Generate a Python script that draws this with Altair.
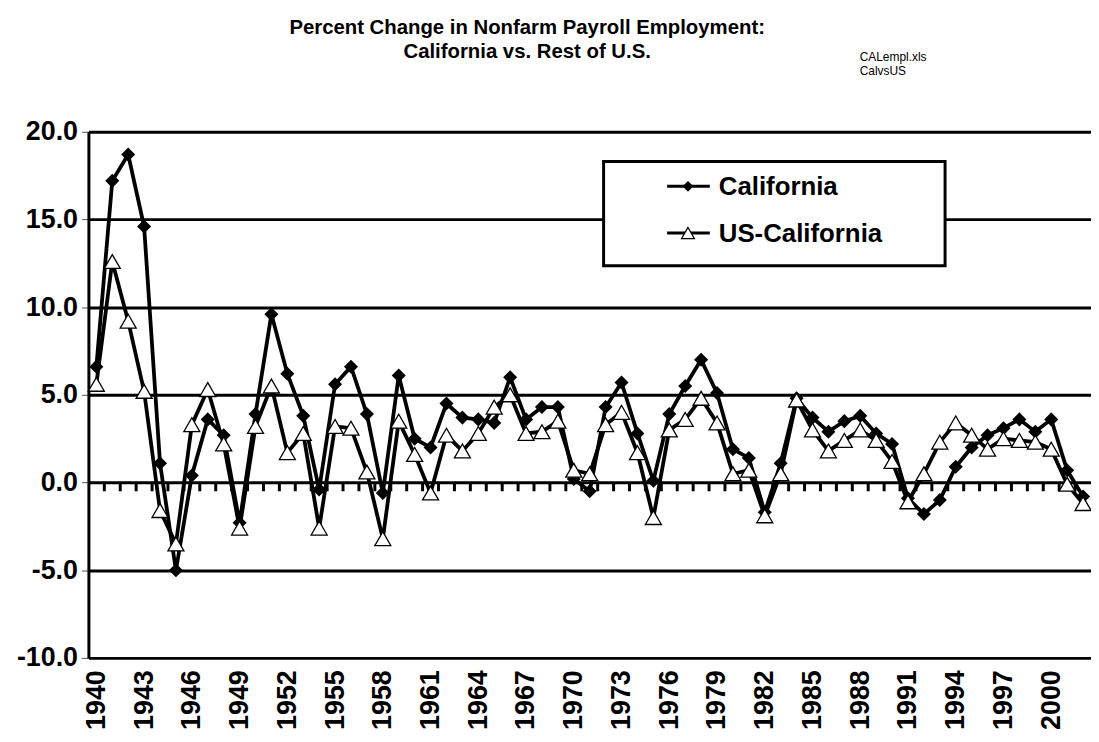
import altair as alt
import pandas as pd

years = list(range(1940, 2003))
california = [
    6.6, 17.2, 18.7, 14.6, 1.1, -5.0, 0.4, 3.6, 2.7, -2.3,
    3.9, 9.6, 6.2, 3.8, -0.4, 5.6, 6.6, 3.9, -0.6, 6.1,
    2.5, 2.0, 4.5, 3.7, 3.6, 3.4, 6.0, 3.6, 4.3, 4.3,
    0.2, -0.5, 4.3, 5.7, 2.8, 0.1, 3.9, 5.5, 7.0, 5.1,
    1.9, 1.4, -1.7, 1.1, 4.8, 3.7, 2.9, 3.5, 3.8, 2.8,
    2.2, -0.9, -1.8, -1.0, 0.9, 2.0, 2.7, 3.1, 3.6, 2.9,
    3.6, 0.7, -0.8,
]
us_less_california = [
    5.6, 12.6, 9.2, 5.2, -1.6, -3.5, 3.3, 5.3, 2.2, -2.6,
    3.2, 5.5, 1.7, 2.8, -2.6, 3.2, 3.1, 0.6, -3.2, 3.5,
    1.6, -0.6, 2.7, 1.8, 2.8, 4.3, 5.0, 2.8, 2.9, 3.5,
    0.7, 0.5, 3.3, 4.0, 1.7, -2.0, 3.0, 3.6, 4.8, 3.4,
    0.5, 0.7, -1.9, 0.5, 4.7, 3.0, 1.8, 2.4, 3.0, 2.4,
    1.2, -1.1, 0.5, 2.3, 3.4, 2.7, 1.9, 2.5, 2.4, 2.3,
    1.9, -0.1, -1.2,
]
series_names = ["California", "US-California"]
y_ticks = [-10, -5, 0, 5, 10, 15, 20]
x_label_years = list(range(1940, 2001, 3))
title_lines = ["Percent Change in Nonfarm Payroll Employment:", "California vs. Rest of U.S."]
note_lines = ["CALempl.xls", "CalvsUS"]

FONT = "Liberation Sans"

df = pd.DataFrame({"year": years, "ca": california, "us": us_less_california})
tick_df = pd.DataFrame({"year": years[:-1]})

xscale = alt.Scale(domain=[years[0] - 0.5, years[-1] + 0.5], nice=False, zero=False)
yscale = alt.Scale(domain=[y_ticks[0], y_ticks[-1]], nice=False)

x_axis = alt.Axis(values=x_label_years, format="d", labelAngle=-90, labelFont=FONT,
                  labelFontSize=27, labelFontWeight="bold", labelColor="black",
                  grid=False, domain=False, ticks=False, labelPadding=12, title=None,
                  labelOverlap=False)
y_axis = alt.Axis(values=y_ticks,
                  labelExpr="(datum.value < 0 ? '-' : '') + format(abs(datum.value), '.1f')",
                  labelFont=FONT, labelFontSize=27,
                  labelFontWeight="bold", labelColor="black", grid=True, gridColor="black",
                  gridWidth=3, gridOpacity=1, domainColor="black", domainWidth=3,
                  tickColor="#555555", tickSize=7, tickWidth=1, labelPadding=4, title=None)

def xenc(field):
    return alt.X(field, type="quantitative", scale=xscale, axis=x_axis)

def yenc(field):
    return alt.Y(field, type="quantitative", scale=yscale, axis=y_axis)

base = alt.Chart(df)

ca_line = base.mark_line(color="black", strokeWidth=3.8).encode(x=xenc("year"), y=yenc("ca"))
ca_pts = base.mark_point(shape="diamond", filled=True, color="black", size=200, opacity=1).encode(
    x=xenc("year"), y=yenc("ca"))
us_line = base.mark_line(color="black", strokeWidth=3.8).encode(x=xenc("year"), y=yenc("us"))
us_pts = base.mark_point(shape="triangle-up", filled=True, fill="white", stroke="black",
                         strokeWidth=1.3, size=260, opacity=1).encode(x=xenc("year"), y=yenc("us"))

zero_ticks = alt.Chart(tick_df).transform_calculate(bx="datum.year + 0.5").mark_rule(
    color="black", strokeWidth=3).encode(
    x=xenc("bx"), y=alt.datum(0), y2=alt.datum(-0.5))

one = pd.DataFrame({"k": [0]})
leg_box = alt.Chart(one).mark_rect(fill="white", stroke="black", strokeWidth=3).encode(
    x=alt.value(519), x2=alt.value(863), y=alt.value(30), y2=alt.value(135))
leg_line1 = alt.Chart(one).mark_rule(color="black", strokeWidth=3).encode(
    x=alt.value(583), x2=alt.value(626), y=alt.value(55))
leg_line2 = alt.Chart(one).mark_rule(color="black", strokeWidth=3).encode(
    x=alt.value(583), x2=alt.value(626), y=alt.value(102))
leg_sym1 = alt.Chart(one).mark_point(shape="diamond", filled=True, color="black", size=120,
                                      opacity=1).encode(x=alt.value(604), y=alt.value(55))
leg_sym2 = alt.Chart(one).mark_point(shape="triangle-up", filled=True, fill="white", stroke="black",
                                      strokeWidth=1.2, size=170, opacity=1).encode(
    x=alt.value(604), y=alt.value(102))
leg_txt1 = alt.Chart(pd.DataFrame({"s": [series_names[0]]})).mark_text(
    font=FONT, fontSize=26, fontWeight="bold", align="left", baseline="middle", color="black").encode(
    x=alt.value(635), y=alt.value(56), text="s:N")
leg_txt2 = alt.Chart(pd.DataFrame({"s": [series_names[1]]})).mark_text(
    font=FONT, fontSize=26, fontWeight="bold", align="left", baseline="middle", color="black").encode(
    x=alt.value(635), y=alt.value(103), text="s:N")

title_txt = alt.Chart(pd.DataFrame({"t": ["\n".join(title_lines)]})).mark_text(
    font=FONT, fontSize=20.5, fontWeight="bold", align="center", baseline="top", lineBreak="\n",
    lineHeight=24, color="black").encode(x=alt.value(442), y=alt.value(-114), text="t:N")

note = alt.Chart(pd.DataFrame({"n": ["\n".join(note_lines)]})).mark_text(
    font=FONT, fontSize=12, align="left", baseline="top", lineBreak="\n", lineHeight=14,
    color="black").encode(x=alt.value(777), y=alt.value(-80), text="n:N")

chart = alt.layer(
    zero_ticks, ca_line, ca_pts, us_line, us_pts,
    leg_box, leg_line1, leg_line2, leg_sym1, leg_sym2, leg_txt1, leg_txt2, title_txt, note,
).properties(
    width=1010, height=530,
    autosize=alt.AutoSizeParams(type="none"),
    padding={"left": 81, "top": 122, "right": 0, "bottom": 74},
).configure_view(stroke=None).configure(background="white")

chart.save("out.html", embed_options={"renderer": "svg", "actions": False})
